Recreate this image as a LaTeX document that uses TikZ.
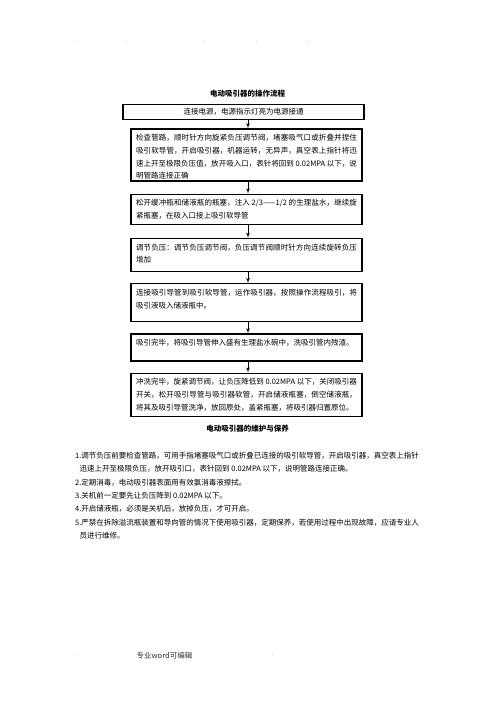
\documentclass[tikz,border=0pt]{standalone}
\usepackage{fontspec}
\setmainfont{Noto Sans CJK SC}
\XeTeXlinebreaklocale "zh"
\XeTeXlinebreakskip=0pt plus 1pt
\definecolor{d00}{rgb}{0.00, 0.00, 0.00}
\definecolor{d04}{rgb}{0.50, 0.50, 0.50}
\usetikzlibrary{positioning}
\usetikzlibrary{shapes, arrows}
\tikzstyle{Link} = [draw, d00, line width=.7pt, -latex']
\tikzstyle{sbox} = [draw, rectangle, d00, line width=1.25pt,
    inner xsep=5pt, inner ysep=0pt, fill=white]
\tikzstyle{head} = [inner sep=0pt, font=\bfseries\fontsize{7.5}{9}\selectfont]
\tikzstyle{dotmark} = [inner sep=0pt, d04, font=\fontsize{6}{7}\selectfont]
\newcommand{\pane}[3]{
    \begin{minipage}[c][#2pt][t]{#1pt}\fontsize{7.5}{12.7}\selectfont
    \vspace*{5.5pt}#3\end{minipage}}

\begin{document}
\begin{tikzpicture}[x=1pt, y=-1pt, node distance=11pt]
     \useasboundingbox [fill=white] (0,0) rectangle (496,702);
     % ><>< =================== ><>< %
     % ><><   Page marks        ><>< %
     % ><>< =================== ><>< %
     \foreach \x [count=\i] in {75,126,205,257,308}
        \node [dotmark] (dot\i) at (\x,42) {.};
     \node [dotmark] (foot0) at (75,655) {.};
     \node [inner sep=0pt, d00!80, font=\fontsize{7.5}{9}\selectfont]
        (foot1) at (164.5,656) {专业word可编辑};
     \node [dotmark] (foot2) at (273,655) {.};
     % ><>< =================== ><>< %
     % ><><   Place nodes       ><>< %
     % ><>< =================== ><>< %
     \coordinate (axis) at (248,0);
     \node [head] (title0) at (247.5,93.5) {电动吸引器的操作流程};
     \node [sbox, anchor=north, minimum width=241pt, minimum height=15pt,
        font=\fontsize{7.5}{9}\selectfont] (step00) at (243.5,104)
        {连接电源，电源指示灯亮为电源接通};
     \node [sbox, below=8pt of step00, xshift=3pt] (step01)
        {\pane{221}{52}{检查管路，顺时针方向旋紧负压调节阀，堵塞吸气口或折叠并捏住\linebreak
         吸引软导管，开启吸引器，机器运转，无异声，真空表上指针将迅\linebreak
         速上开至极限负压值，放开吸入口，表针将回到 0.02MPA 以下，说\linebreak
         明管路连接正确}};
     \node [sbox, below=12pt of step01] (step02)
        {\pane{221}{30}{松开缓冲瓶和储液瓶的瓶塞，注入 2/3——1/2 的生理盐水，继续旋\linebreak
         紧瓶塞，在吸入口接上吸引软导管}};
     \node [sbox, below=13pt of step02] (step03)
        {\pane{221}{33}{调节负压：调节负压调节阀，负压调节阀顺时针方向连续旋转负压\linebreak
         增加}};
     \node [sbox, below=of step03] (step04)
        {\pane{221}{38}{连接吸引导管到吸引软导管，运作吸引器，按照操作流程吸引，将\linebreak
         吸引液吸入储液瓶中。}};
     \node [sbox, below=of step04] (step05)
        {\pane{221}{27}{吸引完毕，将吸引导管伸入盛有生理盐水碗中，洗吸引管内残渣。}};
     \node [sbox, below=of step05] (step06)
        {\pane{221}{43}{冲洗完毕，旋紧调节阀，让负压降低到 0.02MPA 以下，关闭吸引器\linebreak
         开关，松开吸引导管与吸引器软管，开启储液瓶塞，倒空储液瓶，\linebreak
         将其及吸引导管洗净，放回原处，盖紧瓶塞，将吸引器归置原位。}};
     \node [head] (title1) at (247.5,429) {电动吸引器的维护与保养};
     \node [anchor=north west, inner sep=0pt, align=left, d00,
        font=\fontsize{7.5}{13.3}\selectfont] (care) at (75,452)
        {1.调节负压前要检查管路，可用手指堵塞吸气口或折叠已连接的吸引软导管，开启吸引器，真空表上指针\\
         \hspace*{4.5pt}迅速上开至极限负压，放开吸引口，表针回到 0.02MPA 以下，说明管路连接正确。\\
         2.定期消毒，电动吸引器表面用有效氯消毒液擦拭。\\
         3.关机前一定要先让负压降到 0.02MPA 以下。\\
         4.开启储液瓶，必须是关机后，放掉负压，才可开启。\\
         5.严禁在拆除溢流瓶装置和导向管的情况下使用吸引器，定期保养，若使用过程中出现故障，应请专业人\\
         \hspace*{4.5pt}员进行维修。};
     % ><>< =================== ><>< %
     % ><><   Draw lines        ><>< %
     % ><>< =================== ><>< %
     \path [Link] (step00.south -| axis) -- (step01.north -| axis);
     \path [Link] (step01.south -| axis) -- (step02.north -| axis);
     \path [Link] (step02.south -| axis) -- (step03.north -| axis);
     \path [Link] (step03.south -| axis) -- (step04.north -| axis);
     \path [Link] (step04.south -| axis) -- (step05.north -| axis);
     \path [Link] (step05.south -| axis) -- (step06.north -| axis);
\end{tikzpicture}
\end{document}
